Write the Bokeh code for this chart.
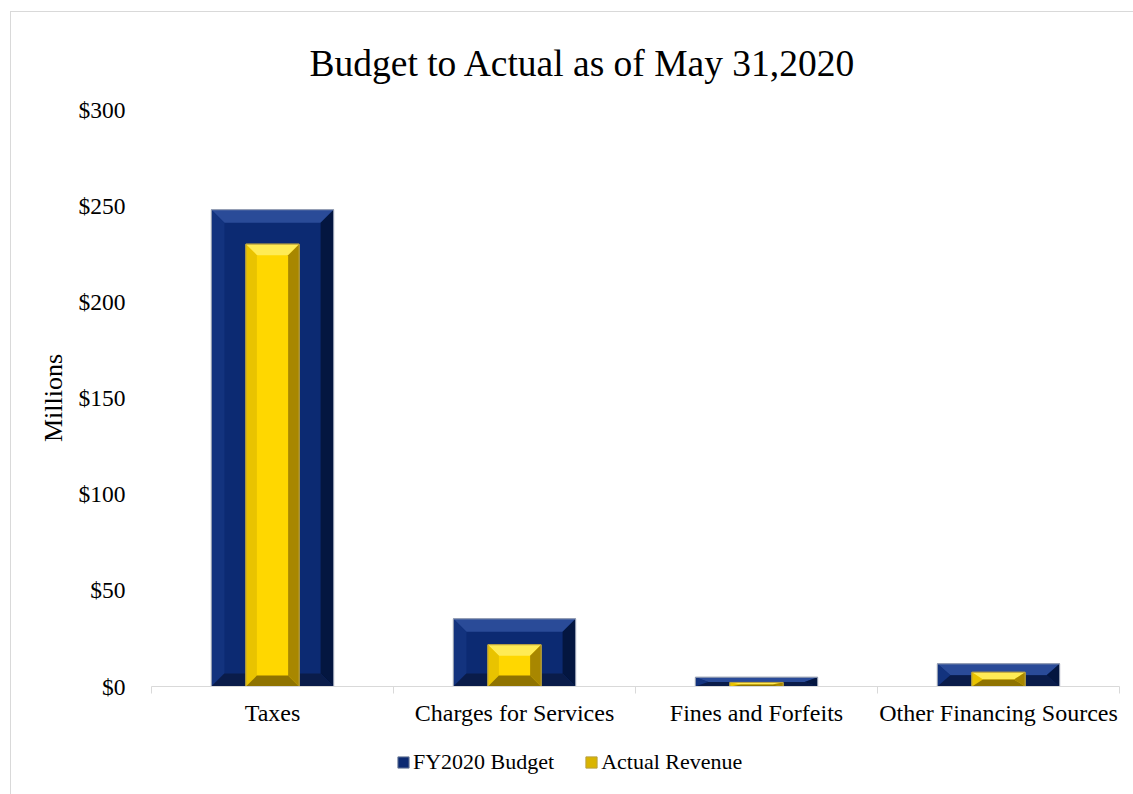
from bokeh.plotting import figure
from bokeh.models import (FixedTicker, LinearAxis, Range1d, Legend, LegendItem)
from bokeh.layouts import column
from bokeh.embed import file_html
from bokeh.resources import INLINE

categories = ["Taxes", "Charges for Services", "Fines and Forfeits", "Other Financing Sources"]
budget = [247.9, 35.2, 4.8, 11.8]
actual = [230.0, 21.7, 2.1, 7.4]
y_ticks = [0, 50, 100, 150, 200, 250, 300]
y_labels = ["$0", "$50", "$100", "$150", "$200", "$250", "$300"]
series_names = ["FY2020 Budget", "Actual Revenue"]

FONT = "Liberation Serif"
Y_MAX = 300
FRAME_W = 968
FRAME_H = 577
BUDGET_COLORS = ("#0c2a72", "#2a4b98", "#13337e", "#041640", "#0a1c4a")
ACTUAL_COLORS = ("#ffd700", "#ffeb55", "#e9c300", "#a88700", "#8f7300")

p = figure(frame_width=FRAME_W, frame_height=FRAME_H,
           x_range=Range1d(0, len(categories)), y_range=Range1d(0, Y_MAX),
           output_backend="svg", toolbar_location=None,
           min_border_left=140, min_border_right=14, min_border_top=97, min_border_bottom=50)
p.outline_line_color = None
p.grid.visible = False

p.title.text = "Budget to Actual as of May 31,2020"
p.title.text_font = FONT
p.title.text_font_size = "37.5px"
p.title.text_font_style = "normal"
p.title.text_color = "black"
p.title.align = "left"
p.title.offset = 158
p.title.standoff = 52

# x axis: tick marks at category boundaries
xa = p.xaxis[0]
xa.ticker = FixedTicker(ticks=list(range(len(categories) + 1)))
xa.major_label_overrides = {i: "" for i in range(len(categories) + 1)}
xa.major_label_standoff = 0
xa.axis_line_color = "#d9d9d9"
xa.major_tick_line_color = "#d9d9d9"
xa.major_tick_out = 7
xa.major_tick_in = 0
xa.minor_tick_line_color = None

lab = LinearAxis(ticker=FixedTicker(ticks=[i + 0.5 for i in range(len(categories))]),
                 major_label_overrides={i + 0.5: c for i, c in enumerate(categories)})
lab.axis_line_color = None
lab.major_tick_line_color = None
lab.minor_tick_line_color = None
lab.major_label_text_font = FONT
lab.major_label_text_font_size = "24px"
lab.major_label_text_color = "black"
lab.major_label_standoff = 0
p.add_layout(lab, "below")

ya = p.yaxis[0]
ya.ticker = FixedTicker(ticks=y_ticks)
ya.major_label_overrides = {t: l for t, l in zip(y_ticks, y_labels)}
ya.axis_line_color = None
ya.major_tick_line_color = None
ya.minor_tick_line_color = None
ya.major_label_text_font = FONT
ya.major_label_text_font_size = "23.5px"
ya.major_label_text_color = "black"
ya.major_label_standoff = 20
ya.axis_label = "Millions"
ya.axis_label_text_font = FONT
ya.axis_label_text_font_size = "26px"
ya.axis_label_text_font_style = "normal"
ya.axis_label_text_color = "black"
ya.axis_label_standoff = 8

px_x = len(categories) / FRAME_W
px_y = Y_MAX / FRAME_H


def beveled(vals, width, bevel_px, colors, outline):
    face, top, left, right, bottom = colors
    x0s, x1s, tops, bots = [], [], [], []
    parts = {"top": ([], []), "left": ([], []), "right": ([], []), "bottom": ([], [])}
    for i, v in enumerate(vals):
        x0 = i + 0.5 - width / 2
        x1 = i + 0.5 + width / 2
        bx = min(bevel_px * px_x, width / 2)
        by = min(bevel_px * px_y, v / 2)
        x0s.append(x0); x1s.append(x1); tops.append(v); bots.append(0)
        ix0, ix1, it, ib = x0 + bx, x1 - bx, v - by, by
        parts["top"][0].append([x0, x1, ix1, ix0]); parts["top"][1].append([v, v, it, it])
        parts["bottom"][0].append([x0, x1, ix1, ix0]); parts["bottom"][1].append([0, 0, ib, ib])
        parts["left"][0].append([x0, ix0, ix0, x0]); parts["left"][1].append([0, ib, it, v])
        parts["right"][0].append([x1, ix1, ix1, x1]); parts["right"][1].append([0, ib, it, v])
    r = p.quad(left=x0s, right=x1s, top=tops, bottom=bots, fill_color=face,
               line_color=outline, line_width=1)
    for key, col in (("top", top), ("left", left), ("right", right), ("bottom", bottom)):
        p.patches(xs=parts[key][0], ys=parts[key][1], fill_color=col, line_color=None)
    p.quad(left=x0s, right=x1s, top=tops, bottom=bots, fill_color=None,
           line_color=outline, line_width=1)
    return r


beveled(budget, 0.505, 13, BUDGET_COLORS, "#9aa3b5")
beveled(actual, 0.22, 11, ACTUAL_COLORS, "#b8a040")

# legend strip below the chart (legend swatches come from off-screen proxy glyphs)
p2 = figure(width=FRAME_W + 154, height=59, x_range=Range1d(0, 1), y_range=Range1d(0, 1),
            output_backend="svg", toolbar_location=None, min_border=0)
p2.axis.visible = False
p2.grid.visible = False
p2.outline_line_color = None
lb = p2.quad(left=2, right=3, top=3, bottom=2, fill_color=BUDGET_COLORS[0], line_color="#6f7d99")
la = p2.quad(left=2, right=3, top=3, bottom=2, fill_color="#d9b400", line_color="#b8a040")
legend = Legend(items=[LegendItem(label=series_names[0], renderers=[lb]),
                       LegendItem(label=series_names[1], renderers=[la])],
                orientation="horizontal", location=(245, 20))
legend.label_text_font = FONT
legend.label_text_font_size = "22px"
legend.label_text_color = "black"
legend.glyph_width = 14
legend.glyph_height = 14
legend.label_standoff = 3
legend.spacing = 30
legend.padding = 0
legend.border_line_color = None
legend.background_fill_alpha = 0
legend.margin = 0
p2.add_layout(legend, "center")

layout = column(p, p2, margin=(11, 0, 0, 10), styles={"border": "1px solid #d9d9d9"})

open("out.html", "w").write(file_html(layout, INLINE))
